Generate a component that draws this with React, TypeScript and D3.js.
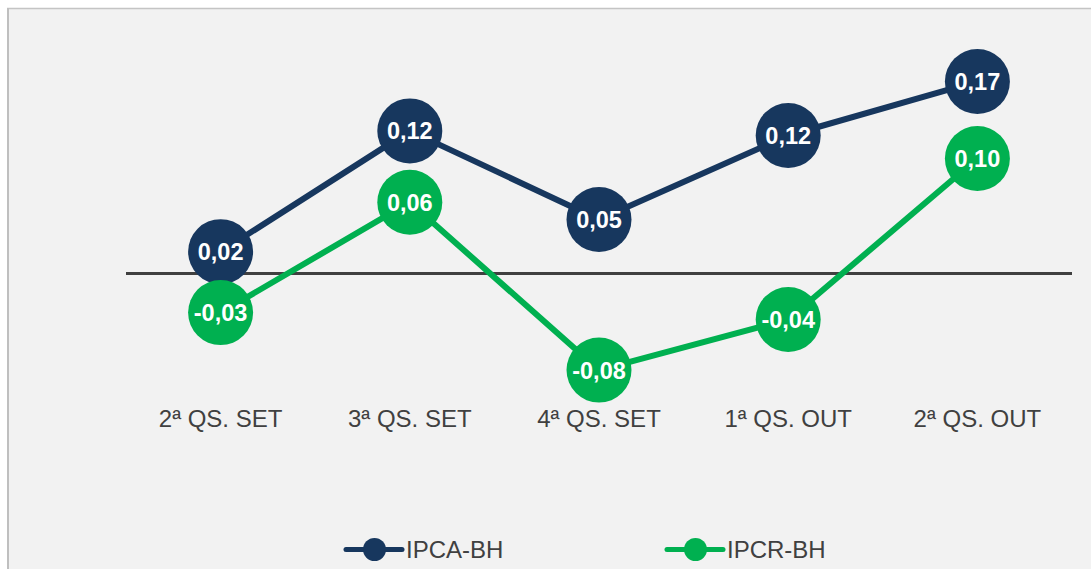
import React from "react";
import * as d3 from "d3";

const categories = ["2ª QS. SET", "3ª QS. SET", "4ª QS. SET", "1ª QS. OUT", "2ª QS. OUT"];
const ipcaValues = [0.019, 0.124, 0.047, 0.12, 0.167];
const ipcrValues = [-0.034, 0.062, -0.084, -0.04, 0.1];
const seriesNames = ["IPCA-BH", "IPCR-BH"];
const seriesColors = ["#17375e", "#00b050"];

const W = 1091;
const H = 569;

export default function App() {
  const x = d3.scaleBand<string>().domain(categories).range([126, 1072]);
  const y = d3.scaleLinear().domain([-0.1, 0.2]).range([273.5 + 115, 273.5 - 230]);
  const cx = (c: string) => (x(c) as number) + x.bandwidth() / 2;
  const fmt = (v: number) => d3.format(".2f")(v).replace(".", ",").replace("−", "-");
  const series = [ipcaValues, ipcrValues];
  const line = d3
    .line<number>()
    .x((_, i) => cx(categories[i]))
    .y((d) => y(d));
  const font = "'Liberation Sans', Arial, sans-serif";
  const legendX = [346, 667];

  return (
    <svg
      width={W}
      height={H}
      style={{ position: "absolute", left: 0, top: 0, display: "block" }}
      fontFamily={font}
    >
      <rect x={0} y={0} width={W} height={H} fill="#ffffff" />
      <rect x={8} y={8} width={W} height={H} fill="#f2f2f2" />
      <line x1={7} x2={W} y1={8.5} y2={8.5} stroke="#c4c4c4" strokeWidth={1.5} />
      <line x1={8} x2={8} y1={8} y2={H} stroke="#bfbfbf" strokeWidth={2} />

      <line x1={126} x2={1072} y1={y(0)} y2={y(0)} stroke="#404040" strokeWidth={3} />

      {series.map((vals, si) => (
        <g key={si}>
          <path d={line(vals) || ""} fill="none" stroke={seriesColors[si]} strokeWidth={6} strokeLinejoin="round" />
          {vals.map((v, i) => (
            <g key={i}>
              <circle cx={cx(categories[i])} cy={y(v)} r={32.5} fill={seriesColors[si]} />
              <text
                x={cx(categories[i])}
                y={y(v)}
                dy="0.36em"
                textAnchor="middle"
                fill="#ffffff"
                fontWeight="bold"
                fontSize={23.5}
              >
                {fmt(v)}
              </text>
            </g>
          ))}
        </g>
      ))}

      {categories.map((c) => (
        <text key={c} x={cx(c)} y={427} textAnchor="middle" fontSize={24} fill="#404040">
          {c}
        </text>
      ))}

      {seriesNames.map((n, i) => (
        <g key={n}>
          <line
            x1={legendX[i]}
            x2={legendX[i] + 56}
            y1={549.5}
            y2={549.5}
            stroke={seriesColors[i]}
            strokeWidth={5}
            strokeLinecap="round"
          />
          <circle cx={legendX[i] + 28.5} cy={549.5} r={11.5} fill={seriesColors[i]} />
          <text x={legendX[i] + 60} y={557.5} fontSize={24} fill="#404040">
            {n}
          </text>
        </g>
      ))}
    </svg>
  );
}
